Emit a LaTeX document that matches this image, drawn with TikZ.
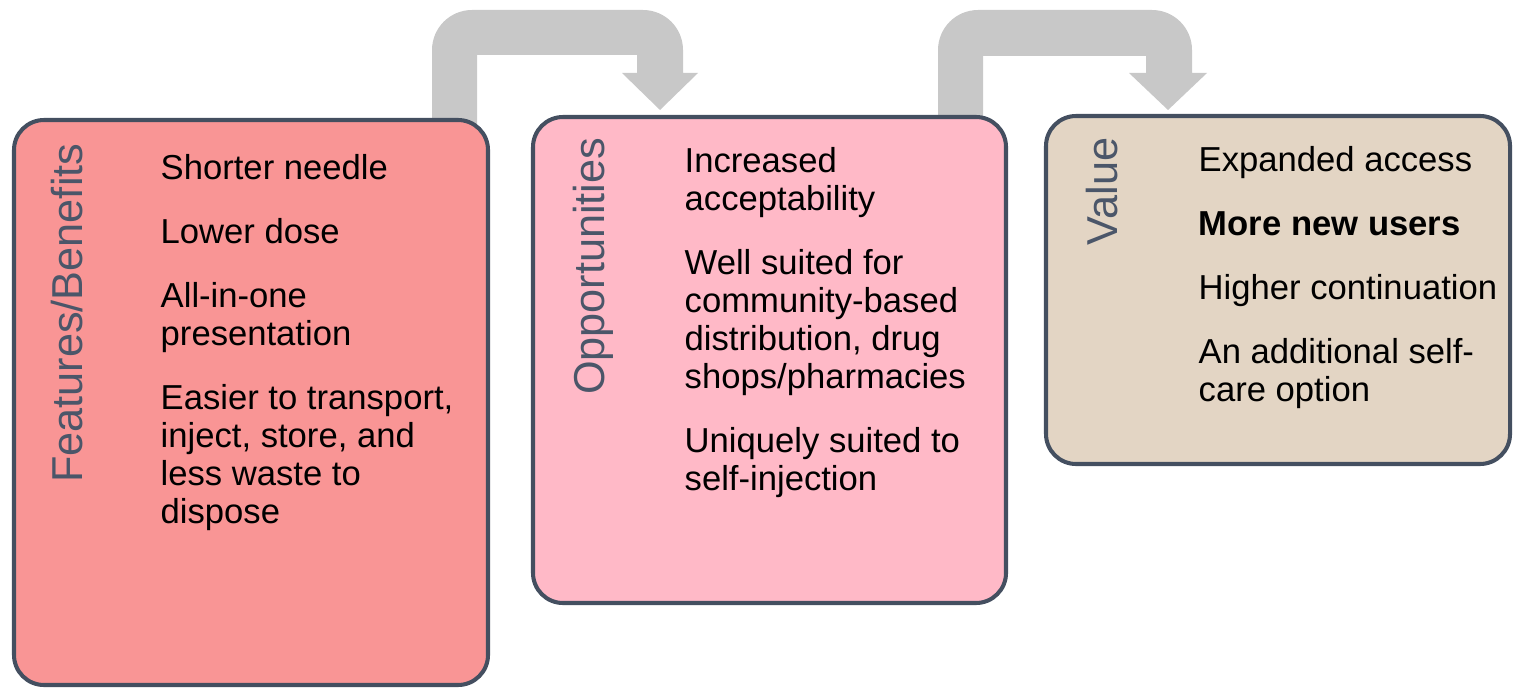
\documentclass[tikz,border=0pt]{standalone}
\usepackage{fontspec}
\setmainfont{Liberation Sans}
\definecolor{boxline}{HTML}{444F60}
\definecolor{titlegray}{HTML}{4B5669}
\definecolor{featfill}{HTML}{F99595}
\definecolor{oppfill}{HTML}{FFB9C7}
\definecolor{valfill}{HTML}{E3D5C4}
\definecolor{arrowgray}{HTML}{C8C8C8}
\begin{document}
\begin{tikzpicture}[x=0.01cm, y=-0.01cm,
    box/.style={fill=#1, draw=boxline, line width=1.15pt, rounded corners=0.3cm},
    title/.style={rotate=90, anchor=base east, inner sep=0pt, text=titlegray,
      font=\fontsize{12.3}{14}\selectfont},
    % base of a multi-line node is its last line
    items/.style={anchor=base west, inner sep=0pt, align=left,
      font=\fontsize{9.85}{10.8}\selectfont},
    bentarrow/.style={fill=arrowgray}]
    \useasboundingbox (0,0) rectangle (1513,688);

    % bent arrows first, the boxes cover their feet
    \fill[bentarrow] (432,125) [rounded corners=0.4cm] -- (432,10) -- (683,10)
      [sharp corners] -- (683,73) -- (698,73) -- (660,110) -- (622,73) -- (637,73)
      -- (637,55) -- (477,55) -- (477,125) -- cycle;
    \fill[bentarrow] (938,125) [rounded corners=0.4cm] -- (938,10) -- (1192,10)
      [sharp corners] -- (1192,73) -- (1207,73) -- (1168,110) -- (1129,73) -- (1146,73)
      -- (1146,56) -- (983,56) -- (983,125) -- cycle;

    % the three boxes
    \draw[box=featfill] (14,120) rectangle (488,685);
    \draw[box=oppfill] (533,117) rectangle (1006,603);
    \draw[box=valfill] (1046,116) rectangle (1510,464);

    \node[title] (featT) at (82,143) {Features/Benefits};
    \node[title] (oppT) at (604,137) {Opportunities};
    \node[title] (valT) at (1117,137) {Value};

    \node[items] (feat) at (160,523) {Shorter needle\\[7.4pt]
      Lower dose\\[7.4pt]
      All-in-one\\presentation\\[7.4pt]
      Easier to transport,\\inject, store, and\\less waste to\\dispose};
    \node[items] (opp) at (684,490) {Increased\\acceptability\\[7.4pt]
      Well suited for\\community-based\\distribution, drug\\shops/pharmacies\\[7.4pt]
      Uniquely suited to\\self-injection};
    \node[items] (val) at (1198,401) {Expanded access\\[7.4pt]
      \textbf{More new users}\\[7.4pt]
      Higher continuation\\[7.4pt]
      An additional self-\\care option};
\end{tikzpicture}
\end{document}
